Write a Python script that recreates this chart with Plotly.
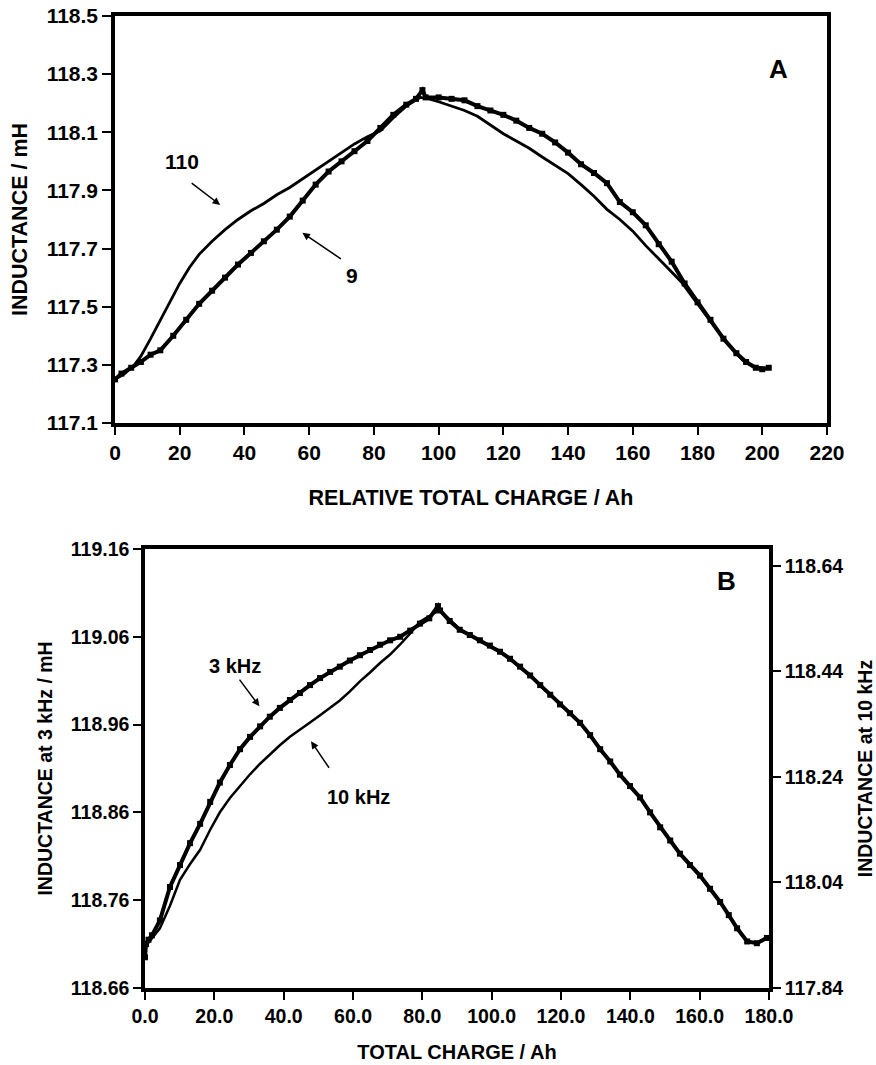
import plotly.graph_objects as go

# ---------------- Panel A data ----------------
a_x9 = [0, 2, 5, 8, 11, 14, 18, 22, 26, 30, 34, 38, 42, 46, 50, 54, 58, 62, 66, 70,
        74, 78, 82, 86, 90, 93, 95, 96, 100, 104, 108, 112, 116, 120, 124, 128, 132,
        136, 140, 144, 148, 152, 156, 160, 164, 168, 172, 176, 180, 184, 188, 192,
        195, 198, 200, 202]
a_y9 = [117.25, 117.27, 117.29, 117.31, 117.335, 117.35, 117.40, 117.455, 117.51,
        117.555, 117.60, 117.645, 117.685, 117.725, 117.765, 117.81, 117.865, 117.92,
        117.965, 118.00, 118.035, 118.07, 118.115, 118.16, 118.195, 118.215, 118.245,
        118.22, 118.22, 118.215, 118.21, 118.19, 118.175, 118.16, 118.14, 118.115,
        118.095, 118.065, 118.03, 117.99, 117.96, 117.925, 117.86, 117.825, 117.78,
        117.715, 117.655, 117.58, 117.515, 117.455, 117.39, 117.34, 117.31, 117.29,
        117.285, 117.29]

a_x110 = [0, 3, 6, 8, 11, 14, 17, 20, 23, 26, 30, 34, 38, 42, 46, 50, 54, 58, 62, 66,
          70, 74, 78, 82, 86, 90, 94.4, 97, 100, 104, 108, 112, 116, 120, 124, 128,
          132, 136, 140, 144, 148, 152, 156, 160, 164, 168, 172, 175, 178, 182, 186,
          190, 194, 197, 200]
a_y110 = [117.25, 117.27, 117.30, 117.33, 117.39, 117.455, 117.52, 117.58, 117.635,
          117.68, 117.725, 117.765, 117.80, 117.83, 117.855, 117.885, 117.91, 117.94,
          117.97, 118.00, 118.03, 118.06, 118.085, 118.105, 118.15, 118.19, 118.22,
          118.215, 118.205, 118.19, 118.175, 118.155, 118.125, 118.095, 118.07, 118.045,
          118.015, 117.985, 117.958, 117.92, 117.88, 117.835, 117.80, 117.76, 117.71,
          117.665, 117.62, 117.585, 117.54, 117.48, 117.42, 117.365, 117.315, 117.295,
          117.29]

# ---------------- Panel B data ----------------
b_x3 = [0, 0.3, 1, 2, 4.3, 7.2, 10.1, 13, 15.9, 18.8, 21.6, 24.5, 27.4, 30.3, 33.2,
        36, 38.9, 41.8, 44.7, 47.6, 50.5, 53.4, 56.2, 59.1, 62, 64.9, 67.8, 70.7, 73.6,
        76.5, 79.3, 82, 84.5, 85.1, 87.9, 90.8, 93.7, 96.6, 99.5, 102.4, 105.3, 108.2,
        111.1, 114, 116.9, 119.7, 122.6, 125.5, 128.4, 131.3, 134.2, 137, 139.9, 142.8,
        145.7, 148.6, 151.5, 154.3, 157.2, 160.1, 163, 165.9, 168.4, 170.8, 173.7,
        176.5, 179.4]
b_y3 = [118.695, 118.71, 118.715, 118.72, 118.737, 118.775, 118.80, 118.825, 118.847,
        118.872, 118.894, 118.914, 118.932, 118.946, 118.958, 118.969, 118.979, 118.988,
        118.996, 119.005, 119.013, 119.02, 119.026, 119.033, 119.039, 119.045, 119.051,
        119.056, 119.06, 119.067, 119.075, 119.081, 119.095, 119.09, 119.078, 119.068,
        119.062, 119.056, 119.05, 119.043, 119.035, 119.026, 119.016, 119.005, 118.994,
        118.983, 118.973, 118.962, 118.948, 118.932, 118.918, 118.903, 118.89, 118.877,
        118.86, 118.843, 118.828, 118.813, 118.8, 118.788, 118.773, 118.758, 118.743,
        118.728, 118.713, 118.711, 118.717]

b_x10 = [0, 2, 4.3, 7.2, 10.1, 13, 15.9, 18.8, 21.6, 24.5, 27.4, 30.3, 33.2, 36, 38.9,
         41.8, 44.7, 47.6, 50.5, 53.4, 56.2, 59.1, 62, 64.9, 67.8, 70.7, 73.6, 76.5,
         79.3, 82, 85.1, 87.9, 90.8, 93.7, 96.6, 99.5, 102.4, 105.3, 108.2, 111.1, 114,
         116.9, 119.7, 122.6, 125.5, 128.4, 131.3, 134.2, 137, 139.9, 142.8, 145.7,
         148.6, 151.5, 154.3, 157.2, 160.1, 163, 165.9, 168.4, 170.8, 173.7, 176.5,
         179.4]
b_y10 = [117.918, 117.935, 117.953, 117.996, 118.045, 118.075, 118.102, 118.14, 118.173,
         118.2, 118.223, 118.245, 118.265, 118.283, 118.30, 118.316, 118.329, 118.343,
         118.357, 118.371, 118.385, 118.402, 118.421, 118.438, 118.456, 118.472, 118.491,
         118.512, 118.534, 118.545, 118.556, 118.538, 118.52, 118.509, 118.498, 118.488,
         118.477, 118.463, 118.449, 118.431, 118.413, 118.396, 118.378, 118.36, 118.343,
         118.318, 118.293, 118.268, 118.244, 118.222, 118.201, 118.173, 118.145, 118.12,
         118.095, 118.073, 118.052, 118.028, 118.003, 117.978, 117.953, 117.928,
         117.925, 117.936]

# ---------------- tick definitions ----------------
a_xticks = [0, 20, 40, 60, 80, 100, 120, 140, 160, 180, 200, 220]
a_yticks = [117.1, 117.3, 117.5, 117.7, 117.9, 118.1, 118.3, 118.5]
b_xticks = [0, 20, 40, 60, 80, 100, 120, 140, 160, 180]
b_yticks_left = [118.66, 118.76, 118.86, 118.96, 119.06, 119.16]
b_yticks_right = [117.84, 118.04, 118.24, 118.44, 118.64]

FONT = "Liberation Sans, Arial, sans-serif"
BLK = "black"

fig = go.Figure()

# Panel A
fig.add_trace(go.Scatter(x=a_x110, y=a_y110, mode="lines",
                         line=dict(color=BLK, width=2.8), xaxis="x", yaxis="y",
                         showlegend=False, name="110"))
fig.add_trace(go.Scatter(x=a_x9, y=a_y9, mode="lines+markers",
                         line=dict(color=BLK, width=4),
                         marker=dict(symbol="square", size=6, color=BLK),
                         xaxis="x", yaxis="y", showlegend=False, name="9"))

# Panel B
fig.add_trace(go.Scatter(x=b_x10, y=b_y10, mode="lines",
                         line=dict(color=BLK, width=2.5), xaxis="x2", yaxis="y3",
                         showlegend=False, name="10 kHz"))
fig.add_trace(go.Scatter(x=b_x3, y=b_y3, mode="lines+markers",
                         line=dict(color=BLK, width=4),
                         marker=dict(symbol="square", size=6, color=BLK),
                         xaxis="x2", yaxis="y2", showlegend=False, name="3 kHz"))


def tfont(size):
    return dict(family=FONT, size=size, color=BLK, weight="bold")


common = dict(showgrid=False, zeroline=False, showline=True, linecolor=BLK,
              ticks="outside", tickcolor=BLK, automargin=False)

fig.update_layout(
    width=876, height=1065,
    margin=dict(l=0, r=0, t=0, b=0),
    paper_bgcolor="white", plot_bgcolor="white",
    showlegend=False,
    xaxis=dict(domain=[115 / 876, 827 / 876], range=[0, 220], anchor="y",
               tickvals=a_xticks, ticktext=[str(v) for v in a_xticks],
               linewidth=3.5, mirror=True, ticklen=8, tickwidth=2,
               tickfont=tfont(21),
               title=dict(text="RELATIVE TOTAL CHARGE / Ah", font=tfont(21.5), standoff=28),
               **common),
    yaxis=dict(domain=[1 - 423 / 1065, 1 - 16 / 1065], range=[117.1, 118.5], anchor="x",
               tickvals=a_yticks, ticktext=[f"{v:.1f}" for v in a_yticks],
               linewidth=3.5, mirror=True, ticklen=9, tickwidth=2,
               tickfont=tfont(21),
               title=dict(text="INDUCTANCE / mH", font=tfont(21.5), standoff=14),
               **common),
    xaxis2=dict(domain=[145 / 876, 769 / 876], range=[0, 180], anchor="y2",
                tickvals=b_xticks, ticktext=[f"{v:.1f}" for v in b_xticks],
                linewidth=3.5, mirror=True, ticklen=8, tickwidth=2,
                tickfont=tfont(19.5),
                title=dict(text="TOTAL CHARGE / Ah", font=tfont(20), standoff=20),
                **common),
    yaxis2=dict(domain=[1 - 988 / 1065, 1 - 549 / 1065], range=[118.66, 119.16],
                anchor="x2",
                tickvals=b_yticks_left, ticktext=[f"{v:.2f}" for v in b_yticks_left],
                linewidth=3.5, ticklen=8, tickwidth=2,
                tickfont=tfont(19.5),
                title=dict(text="INDUCTANCE at 3 kHz / mH", font=tfont(19.5), standoff=14),
                **common),
    yaxis3=dict(range=[117.84, 118.672], anchor="x2", overlaying="y2", side="right",
                tickvals=b_yticks_right, ticktext=[f"{v:.2f}" for v in b_yticks_right],
                linewidth=3.5, ticklen=8, tickwidth=1.5,
                tickfont=tfont(19.5),
                title=dict(text="INDUCTANCE at 10 kHz", font=tfont(19.5), standoff=22),
                **common),
)

ann_font = tfont(21)
annotations = [
    # Panel A labels
    dict(x=20.7, y=117.998, xref="x", yref="y", text="110", showarrow=False, font=ann_font),
    dict(x=32.5, y=117.85, xref="x", yref="y", text="", showarrow=True,
         ax=-30, ay=-23, arrowhead=2, arrowsize=1, arrowwidth=1.5, arrowcolor=BLK),
    dict(x=73.3, y=117.609, xref="x", yref="y", text="9", showarrow=False, font=ann_font),
    dict(x=57.9, y=117.754, xref="x", yref="y", text="", showarrow=True,
         ax=40, ay=27, arrowhead=2, arrowsize=1, arrowwidth=1.5, arrowcolor=BLK),
    dict(x=790 / 876, y=1 - 52 / 1065, xref="paper", yref="paper", text="A",
         showarrow=False, font=tfont(26)),
    # Panel B labels
    dict(x=26, y=119.027, xref="x2", yref="y2", text="3 kHz", showarrow=False,
         font=tfont(20)),
    dict(x=33, y=118.981, xref="x2", yref="y2", text="", showarrow=True,
         ax=-21, ay=-28, arrowhead=2, arrowsize=1, arrowwidth=1.5, arrowcolor=BLK),
    dict(x=61.5, y=118.877, xref="x2", yref="y2", text="10 kHz", showarrow=False,
         font=tfont(20)),
    dict(x=47.9, y=118.941, xref="x2", yref="y2", text="", showarrow=True,
         ax=19, ay=28, arrowhead=2, arrowsize=1, arrowwidth=1.5, arrowcolor=BLK),
    dict(x=738 / 876, y=1 - 581 / 1065, xref="paper", yref="paper", text="B",
         showarrow=False, font=tfont(26)),
]
fig.update_layout(annotations=annotations)

fig.write_html("out.html")
